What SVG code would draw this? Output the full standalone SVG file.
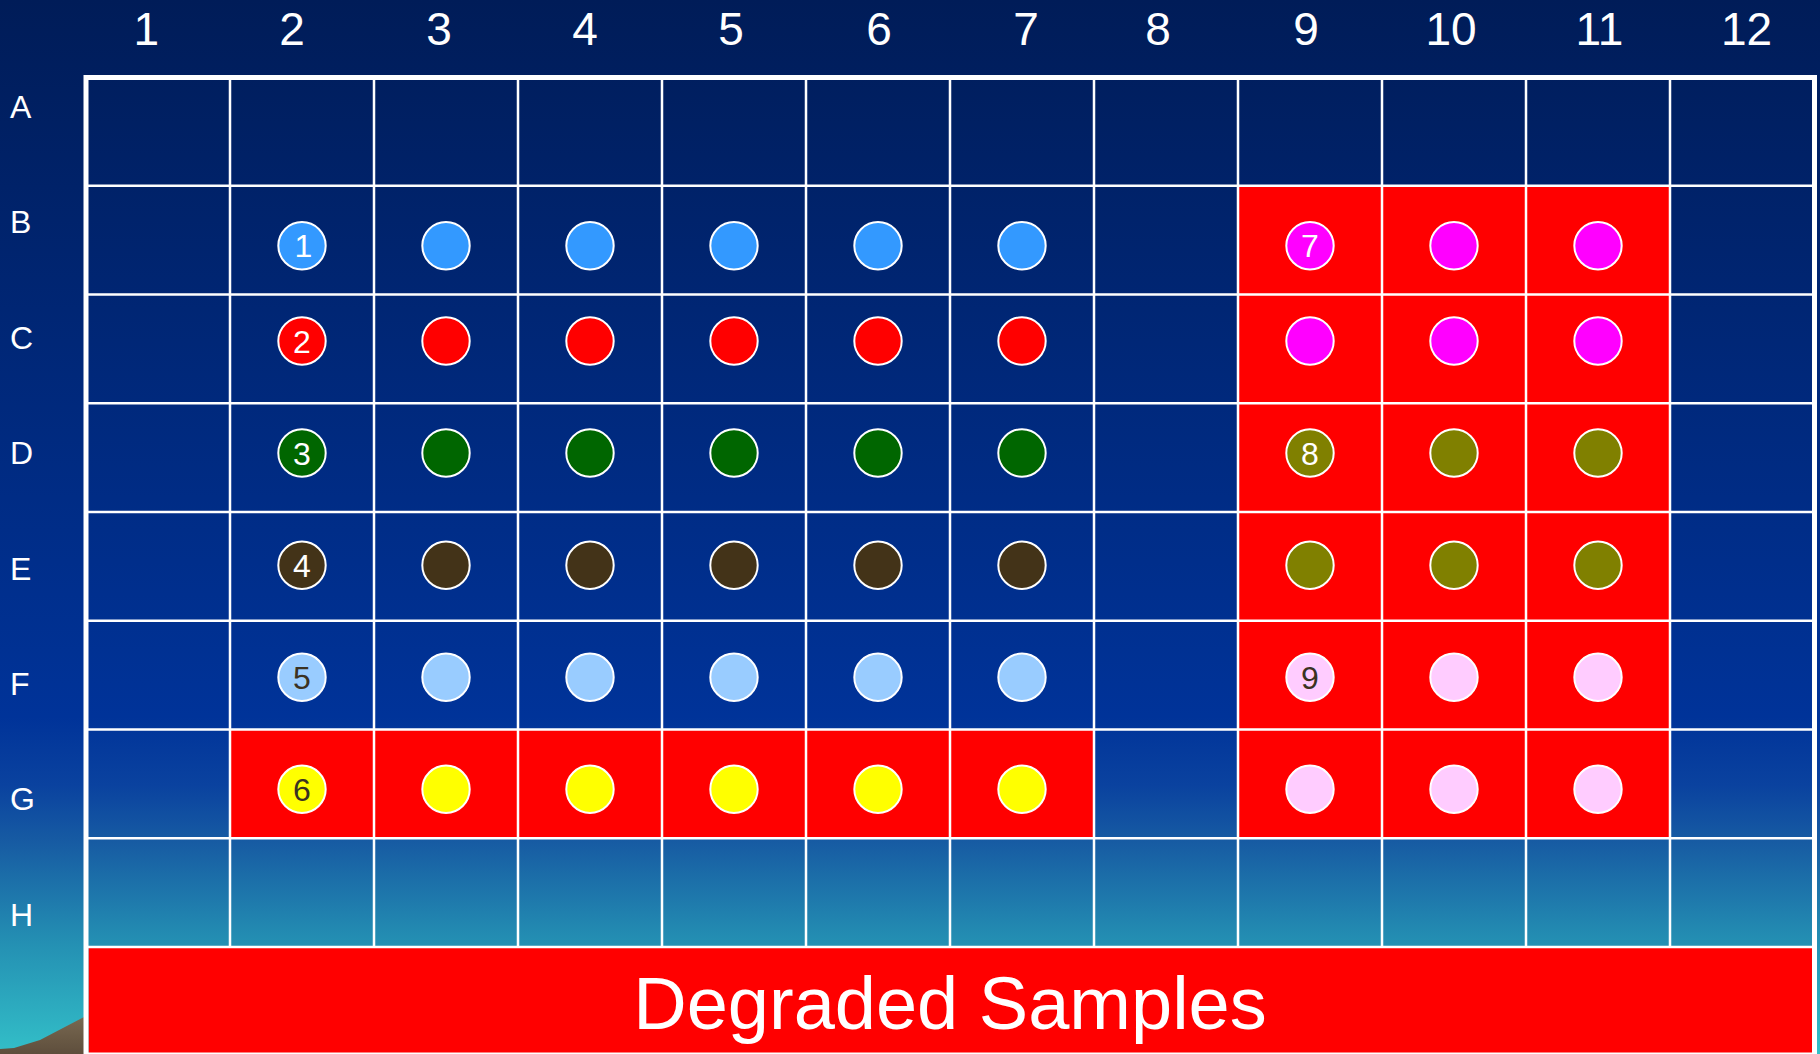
<svg xmlns="http://www.w3.org/2000/svg" width="1820" height="1054" viewBox="0 0 1820 1054">
<defs>
<linearGradient id="bg" x1="0" y1="0" x2="0" y2="1054" gradientUnits="userSpaceOnUse">
<stop offset="0" stop-color="#001c58"/>
<stop offset="0.68" stop-color="#003399"/>
<stop offset="0.745" stop-color="#0a429f"/>
<stop offset="0.80" stop-color="#175ca3"/>
<stop offset="0.895" stop-color="#2490b3"/>
<stop offset="1" stop-color="#33bfc8"/>
</linearGradient>
<linearGradient id="hill" x1="0" y1="1015" x2="0" y2="1054" gradientUnits="userSpaceOnUse">
<stop offset="0" stop-color="#7a6a52"/>
<stop offset="1" stop-color="#5e4e3c"/>
</linearGradient>
</defs>
<style>
.hdr{font-family:"Liberation Sans",Arial,sans-serif;font-size:46px;fill:#fff;text-anchor:middle}
.rowl{font-family:"Liberation Sans",Arial,sans-serif;font-size:32px;fill:#fff}
.well{stroke:#fff;stroke-width:2}
.num{font-family:"Liberation Sans",Arial,sans-serif;font-size:32px;fill:#fff;text-anchor:middle}
.dk{fill:#3b3222}
.gl{stroke:#fff;stroke-width:2.5;fill:none}
.deg{fill:#ff0000}
.c1{fill:#3399ff}.c2{fill:#ff0000}.c3{fill:#006600}.c4{fill:#433318}.c5{fill:#99ccff}.c6{fill:#ffff00}.c7{fill:#ff00ff}.c8{fill:#808000}.c9{fill:#ffccff}
</style>
<rect x="0" y="0" width="1820" height="1054" fill="url(#bg)"/>
<polygon points="0,1049 14,1048 40,1040 84,1017 84,1054 0,1054" fill="url(#hill)"/>

<g id="column-headers">
<text class="hdr" x="146.4" y="45">1</text>
<text class="hdr" x="292" y="45">2</text>
<text class="hdr" x="439" y="45">3</text>
<text class="hdr" x="585" y="45">4</text>
<text class="hdr" x="731" y="45">5</text>
<text class="hdr" x="879" y="45">6</text>
<text class="hdr" x="1026" y="45">7</text>
<text class="hdr" x="1158" y="45">8</text>
<text class="hdr" x="1306" y="45">9</text>
<text class="hdr" x="1451" y="45">10</text>
<text class="hdr" x="1599.5" y="45">11</text>
<text class="hdr" x="1746.5" y="45">12</text>
</g>
<g id="row-labels">
<text class="rowl" x="10" y="118">A</text>
<text class="rowl" x="10" y="233.4">B</text>
<text class="rowl" x="10" y="348.8">C</text>
<text class="rowl" x="10" y="464.2">D</text>
<text class="rowl" x="10" y="579.6">E</text>
<text class="rowl" x="10" y="695">F</text>
<text class="rowl" x="10" y="810.4">G</text>
<text class="rowl" x="10" y="925.8">H</text>
</g>

<g id="degraded-regions">
<rect class="deg" x="230" y="729.5" width="864" height="108.75"/>
<rect class="deg" x="1238" y="185.75" width="432" height="652.5"/>
<rect class="deg" x="88.5" y="948" width="1723.5" height="106"/>
</g>

<g id="grid">
<path class="gl" d="M230 77.5V947M374 77.5V947M518 77.5V947M662 77.5V947M806 77.5V947M950 77.5V947M1094 77.5V947M1238 77.5V947M1382 77.5V947M1526 77.5V947M1670 77.5V947"/>
<path class="gl" d="M86 185.75H1814M86 294.5H1814M86 403.25H1814M86 512H1814M86 620.75H1814M86 729.5H1814M86 838.25H1814M86 947H1814"/>
<rect x="86" y="77.5" width="1728.5" height="977.5" fill="none" stroke="#fff" stroke-width="5"/>
</g>

<g id="connectors"></g>

<g id="sample-1">
<circle class="well c1" cx="302" cy="245.7" r="23.7"/><circle class="well c1" cx="446" cy="245.7" r="23.7"/><circle class="well c1" cx="590" cy="245.7" r="23.7"/><circle class="well c1" cx="734" cy="245.7" r="23.7"/><circle class="well c1" cx="878" cy="245.7" r="23.7"/><circle class="well c1" cx="1022" cy="245.7" r="23.7"/>
<text class="num" x="303.5" y="257.2">1</text>
</g>
<g id="sample-2">
<circle class="well c2" cx="302" cy="341" r="23.7"/><circle class="well c2" cx="446" cy="341" r="23.7"/><circle class="well c2" cx="590" cy="341" r="23.7"/><circle class="well c2" cx="734" cy="341" r="23.7"/><circle class="well c2" cx="878" cy="341" r="23.7"/><circle class="well c2" cx="1022" cy="341" r="23.7"/>
<text class="num" x="302" y="352.5">2</text>
</g>
<g id="sample-3">
<circle class="well c3" cx="302" cy="453" r="23.7"/><circle class="well c3" cx="446" cy="453" r="23.7"/><circle class="well c3" cx="590" cy="453" r="23.7"/><circle class="well c3" cx="734" cy="453" r="23.7"/><circle class="well c3" cx="878" cy="453" r="23.7"/><circle class="well c3" cx="1022" cy="453" r="23.7"/>
<text class="num" x="302" y="464.5">3</text>
</g>
<g id="sample-4">
<circle class="well c4" cx="302" cy="565.3" r="23.7"/><circle class="well c4" cx="446" cy="565.3" r="23.7"/><circle class="well c4" cx="590" cy="565.3" r="23.7"/><circle class="well c4" cx="734" cy="565.3" r="23.7"/><circle class="well c4" cx="878" cy="565.3" r="23.7"/><circle class="well c4" cx="1022" cy="565.3" r="23.7"/>
<text class="num" x="302" y="576.8">4</text>
</g>
<g id="sample-5">
<circle class="well c5" cx="302" cy="677.3" r="23.7"/><circle class="well c5" cx="446" cy="677.3" r="23.7"/><circle class="well c5" cx="590" cy="677.3" r="23.7"/><circle class="well c5" cx="734" cy="677.3" r="23.7"/><circle class="well c5" cx="878" cy="677.3" r="23.7"/><circle class="well c5" cx="1022" cy="677.3" r="23.7"/>
<text class="num dk" x="302" y="688.8">5</text>
</g>
<g id="sample-6">
<circle class="well c6" cx="302" cy="789.3" r="23.7"/><circle class="well c6" cx="446" cy="789.3" r="23.7"/><circle class="well c6" cx="590" cy="789.3" r="23.7"/><circle class="well c6" cx="734" cy="789.3" r="23.7"/><circle class="well c6" cx="878" cy="789.3" r="23.7"/><circle class="well c6" cx="1022" cy="789.3" r="23.7"/>
<text class="num dk" x="302" y="800.8">6</text>
</g>
<g id="sample-7">
<circle class="well c7" cx="1310" cy="245.7" r="23.7"/><circle class="well c7" cx="1454" cy="245.7" r="23.7"/><circle class="well c7" cx="1598" cy="245.7" r="23.7"/>
<circle class="well c7" cx="1310" cy="341" r="23.7"/><circle class="well c7" cx="1454" cy="341" r="23.7"/><circle class="well c7" cx="1598" cy="341" r="23.7"/>
<text class="num" x="1310" y="257.2">7</text>
</g>
<g id="sample-8">
<circle class="well c8" cx="1310" cy="453" r="23.7"/><circle class="well c8" cx="1454" cy="453" r="23.7"/><circle class="well c8" cx="1598" cy="453" r="23.7"/>
<circle class="well c8" cx="1310" cy="565.3" r="23.7"/><circle class="well c8" cx="1454" cy="565.3" r="23.7"/><circle class="well c8" cx="1598" cy="565.3" r="23.7"/>
<text class="num" x="1310" y="464.5">8</text>
</g>
<g id="sample-9">
<circle class="well c9" cx="1310" cy="677.3" r="23.7"/><circle class="well c9" cx="1454" cy="677.3" r="23.7"/><circle class="well c9" cx="1598" cy="677.3" r="23.7"/>
<circle class="well c9" cx="1310" cy="789.3" r="23.7"/><circle class="well c9" cx="1454" cy="789.3" r="23.7"/><circle class="well c9" cx="1598" cy="789.3" r="23.7"/>
<text class="num dk" x="1310" y="688.8">9</text>
</g>

<g id="degraded-label">
<text x="950" y="1029" font-family="'Liberation Sans',Arial,sans-serif" font-size="74" fill="#fff" text-anchor="middle">Degraded Samples</text>
</g>
</svg>
